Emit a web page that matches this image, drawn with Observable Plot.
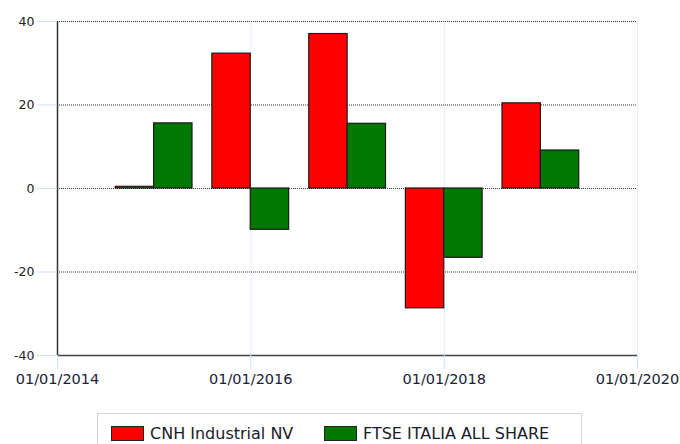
<!DOCTYPE html>
<html>
<head>
<meta charset="utf-8">
<script src="https://cdn.jsdelivr.net/npm/d3@7"></script>
<script src="https://cdn.jsdelivr.net/npm/@observablehq/plot@0.6"></script>
<style>
  html, body { margin: 0; padding: 0; background: #fff; }
  #wrap { position: relative; width: 680px; height: 444px; overflow: hidden; font-family: "DejaVu Sans", Verdana, sans-serif; }
  #legend { position: absolute; left: 97px; top: 413px; width: 485px; height: 40px; border: 1px solid #d4d4d4; box-sizing: border-box; }
  .item { position: absolute; top: 10px; display: flex; align-items: center; font-size: 16px; color: #1a1a2a; white-space: nowrap; }
  .sw { width: 33px; height: 15px; border: 1px solid #222; margin-right: 6px; box-sizing: border-box; }
</style>
</head>
<body>
<div id="wrap"><div id="chart"></div>
<div id="legend">
  <div class="item" style="left:13px"><div class="sw" style="background:#ff0000"></div>CNH Industrial NV</div>
  <div class="item" style="left:226px"><div class="sw" style="background:#007700"></div>FTSE ITALIA ALL SHARE</div>
</div>
</div>
<script>
const dates = ["2015-01-01", "2016-01-01", "2017-01-01", "2018-01-01", "2019-01-01"];
const cnh = [0.4, 32.3, 37.0, -28.7, 20.4];
const ftse = [15.6, -9.9, 15.5, -16.6, 9.1];
const seriesNames = ["CNH Industrial NV", "FTSE ITALIA ALL SHARE"];
const colors = ["#ff0000", "#007700"];
const yTicks = [-40, -20, 0, 20, 40];
const xTicks = ["2014-01-01", "2016-01-01", "2018-01-01", "2020-01-01"];

const DAY = 86400000;
const barDays = 145;
const rows = [];
dates.forEach((d, i) => {
  const t = new Date(d);
  rows.push({series: seriesNames[0], x1: new Date(+t - barDays * DAY), x2: t, value: cnh[i]});
  rows.push({series: seriesNames[1], x1: t, x2: new Date(+t + barDays * DAY), value: ftse[i]});
});
const xT = xTicks.map(d => new Date(d));
const fmt = d3.utcFormat("%d/%m/%Y");

const plot = Plot.plot({
  width: 680,
  height: 400,
  marginTop: 21,
  marginBottom: 45,
  marginLeft: 57,
  marginRight: 43,
  style: {fontFamily: "DejaVu Sans, Verdana, sans-serif", background: "#fff"},
  x: {type: "utc", domain: [xT[0], xT[xT.length - 1]], label: null},
  y: {domain: [-40, 40], label: null},
  color: {domain: seriesNames, range: colors},
  marks: [
    Plot.ruleX(xT.slice(1), {stroke: "#c9dcf3", strokeDasharray: "1,1", strokeWidth: 1}),
    Plot.ruleY([-20, 0, 20, 40], {stroke: "#333", strokeDasharray: "1,1", strokeWidth: 1}),
    Plot.rectY(rows, {x1: "x1", x2: "x2", y1: 0, y2: "value", fill: "series", stroke: "#1a1a1a", strokeWidth: 1.2}),
    Plot.ruleX([xT[0]], {stroke: "#333", strokeWidth: 1.5}),
    Plot.ruleY([-40], {stroke: "#444", strokeWidth: 1.5}),
    Plot.axisY({ticks: yTicks, tickFormat: d => String(d), tickSize: 20, tickPadding: 3, stroke: "#cfe0f5", fontSize: 12.5, fill: "#222", label: null}),
    Plot.axisX({ticks: xT, tickFormat: fmt, tickSize: 14, tickPadding: 4, stroke: "#cfe0f5", fontSize: 14.5, fill: "#1b2236", label: null})
  ]
});
document.getElementById("chart").appendChild(plot);
</script>
</body>
</html>
